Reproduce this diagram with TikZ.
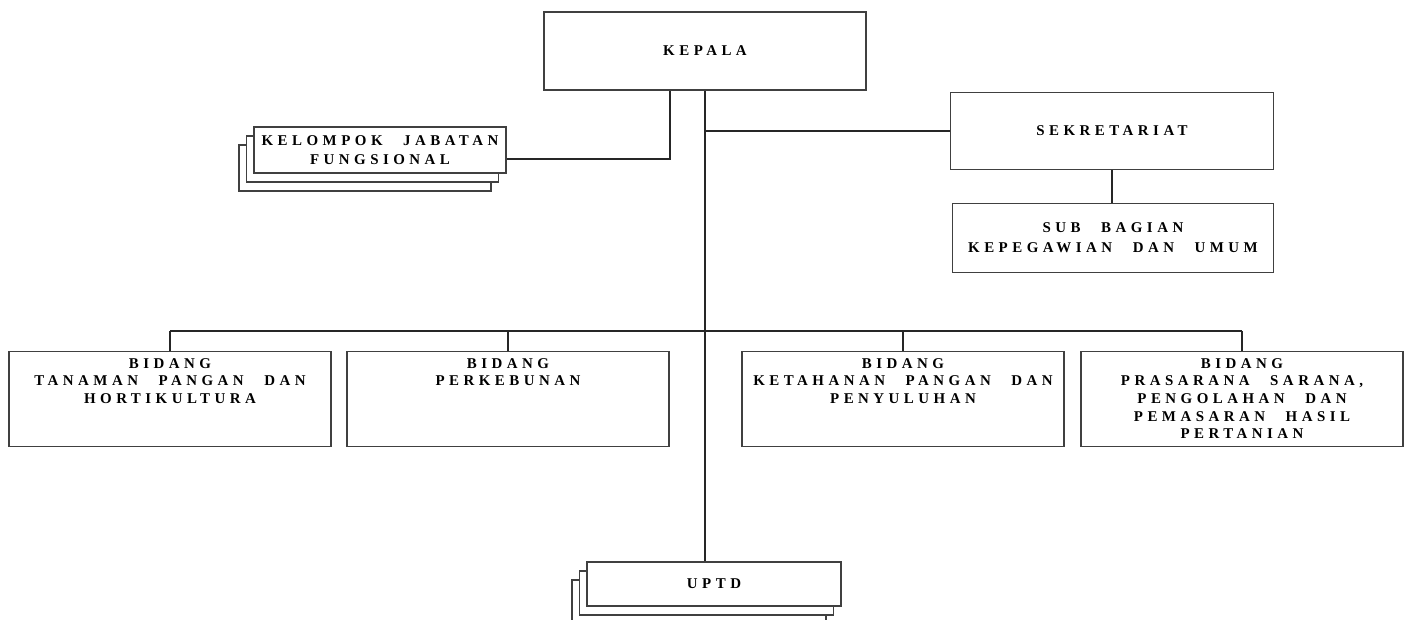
\documentclass[tikz,border=0pt]{standalone}
\usepackage{fontspec}
\newfontfamily\orgfont{Liberation Serif}[LetterSpace=30, WordSpace=2.5]
\usetikzlibrary{positioning,shadows}
% text at the top of a bidang box
\newcommand{\toptext}[1]{\parbox[t][1.62cm][t]{6.3cm}{\centering #1}}

\begin{document}
\begin{tikzpicture}[x=0.02cm, y=-0.02cm,
    unit/.style={draw=black!75, line width=1pt, fill=white, align=center, inner sep=2pt,
        font=\orgfont\bfseries\fontsize{8.5}{10}\selectfont},
    bidang/.style={unit, minimum width=6.42cm, minimum height=1.9cm},
    stack/.style={double copy shadow={shadow xshift=-0.15cm, shadow yshift=-0.18cm,
        fill=white, draw=black!75, line width=1pt}},
    link/.style={draw=black!85, line width=1.1pt}]
    \useasboundingbox (0,0) rectangle (1410,619);

    % Pimpinan dan sekretariat
    \node[unit, minimum width=6.44cm, minimum height=1.56cm] (kepala) at (705,51) {KEPALA};
    \node[unit, minimum width=6.46cm, minimum height=1.54cm] (sekretariat) at (1112,131) {SEKRETARIAT};
    \node[unit, minimum width=6.42cm, minimum height=1.38cm] (subbag) at (1113,238) {SUB BAGIAN\\[1.5pt]KEPEGAWIAN DAN UMUM};
    \node[unit, stack, minimum width=5.04cm, minimum height=0.92cm] (kjf) at (380,150) {KELOMPOK JABATAN\\[1pt]FUNGSIONAL};

    % Bidang
    \foreach \name/\cx/\txt in {bid1/170/{BIDANG\\TANAMAN PANGAN DAN\\HORTIKULTURA},
        bid2/508/{BIDANG\\PERKEBUNAN},
        bid3/903/{BIDANG\\KETAHANAN PANGAN DAN\\PENYULUHAN},
        bid4/1242/{BIDANG\\PRASARANA SARANA,\\PENGOLAHAN DAN\\PEMASARAN HASIL\\PERTANIAN}} {
        \node[bidang] (\name) at (\cx,399) {\toptext{\txt}};
    }

    % UPTD
    \node[unit, stack, minimum width=5.08cm, minimum height=0.88cm] (uptd) at (714,584) {UPTD};

    % Garis komando
    \draw[link] (kepala.south) -- (kepala.south |- uptd.north);
    \draw[link] (kepala.south |- sekretariat.west) -- (sekretariat.west);
    \draw[link] (sekretariat.south) -- (sekretariat.south |- subbag.north);
    \coordinate (kjfdrop) at ([xshift=-0.7cm]kepala.south);
    \draw[link] (kjfdrop) |- ([yshift=-0.18cm]kjf.east);
    \path (kepala.south) ++(0,240) coordinate (bus);
    \draw[link] (bid1.north |- bus) -- (bid4.north |- bus);
    \foreach \b in {bid1,bid2,bid3,bid4}
        \draw[link] (\b.north |- bus) -- (\b.north);
\end{tikzpicture}
\end{document}
